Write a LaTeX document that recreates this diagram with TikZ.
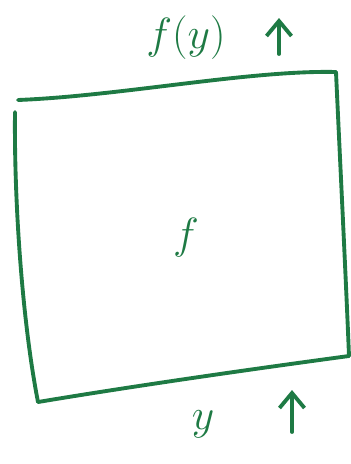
\documentclass[tikz,border=0pt]{standalone}
\usepackage{tikz}
\usetikzlibrary{arrows.meta}
\definecolor{pen}{RGB}{30,122,68}
\tikzset{
    stroke/.style={draw=pen, line width=2.2pt, line cap=round, line join=round},
    label/.style={text=pen, font=\fontsize{28}{30}\selectfont},
    uparrow/.style={stroke, -{Straight Barb[length=3mm, width=5mm]}}
}
\begin{document}
\begin{tikzpicture}[x=0.02cm, y=-0.02cm]
\useasboundingbox (0,0) rectangle (351,464);
% corners of the box
\coordinate (tl) at (18,100);
\coordinate (tr) at (336,72);
\coordinate (br) at (349,356);
\coordinate (bl) at (38,402);
\draw[stroke] (15,112) .. controls (14,200) and (22,320) .. (bl);
\draw[stroke] (tl) .. controls (120,96) and (250,70) .. (tr);
\draw[stroke] (tr) .. controls (340,160) and (346,280) .. (br);
\draw[stroke] (bl) .. controls (140,385) and (260,368) .. (br);
\node[label, font=\fontsize{38}{40}\selectfont] (f) at (186,238) {$f$};
% output on top, input below
\node[label] (out) at (186,38) {$f(y)$};
\coordinate (outlo) at (279,54);
\coordinate (outhi) at (279,18);
\draw[uparrow] (outlo) -- (outhi);
\node[label] (in) at (203,424) {$y$};
\coordinate (inlo) at (292,432);
\coordinate (inhi) at (292,390);
\draw[uparrow] (inlo) -- (inhi);
\end{tikzpicture}
\end{document}
